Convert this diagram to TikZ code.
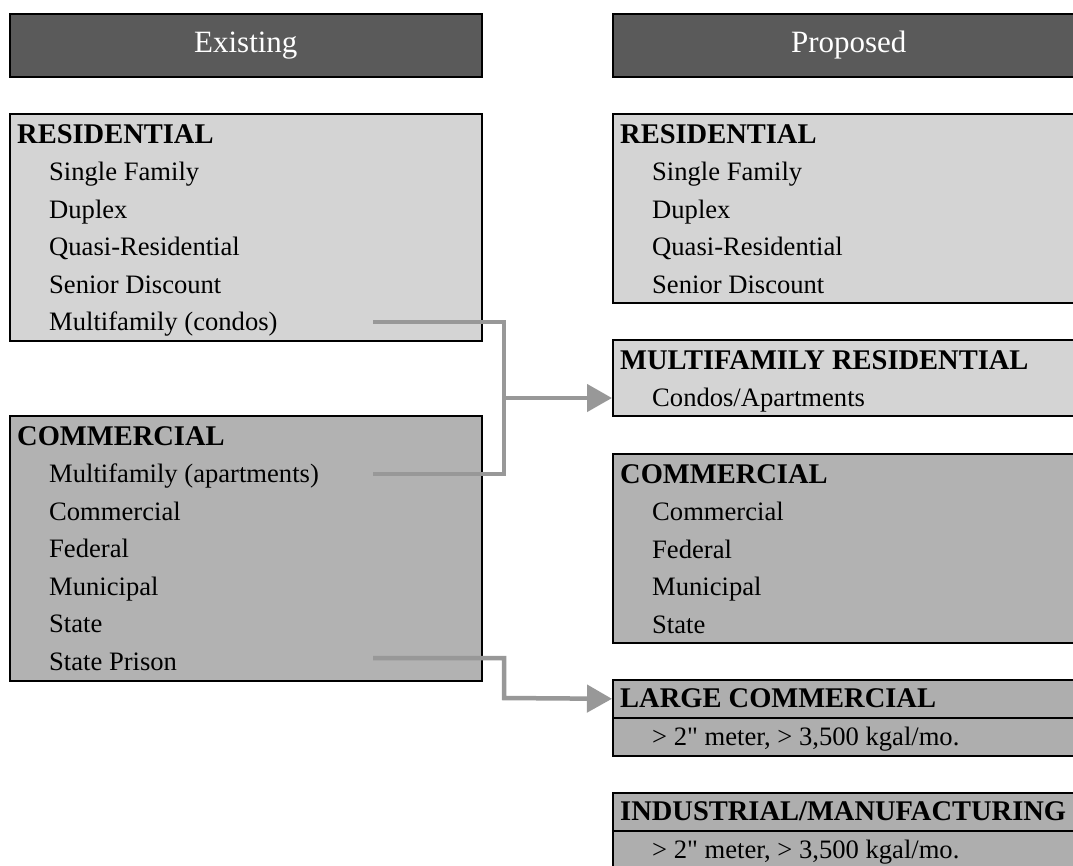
\documentclass[tikz,border=0pt]{standalone}
\usepackage{fontspec}
\setmainfont{Liberation Serif}
\usetikzlibrary{arrows.meta}
\definecolor{hdrgray}{HTML}{5A5A5A}
\definecolor{resgray}{HTML}{D4D4D4}
\definecolor{comgray}{HTML}{B2B2B2}
\definecolor{lcgray}{HTML}{AEAEAE}
\definecolor{conngray}{HTML}{989898}
\tikzset{
  hdr/.style={draw=black, line width=1.6pt, fill=hdrgray, minimum width=472pt, minimum height=63pt,
    anchor=north west, inner sep=0pt, text=white, font=\fontsize{31}{34}\selectfont},
  boxbase/.style={draw=black, line width=1.6pt, anchor=north west, inner sep=0pt, minimum width=472pt},
  resbox/.style={boxbase, fill=resgray},
  combox/.style={boxbase, fill=comgray},
  lcbox/.style={boxbase, fill=lcgray},
  ttl/.style={anchor=base west, inner sep=0pt, font=\fontsize{28.5}{30}\selectfont\bfseries},
  itm/.style={anchor=base west, inner sep=0pt, font=\fontsize{26.6}{30}\selectfont},
  conn/.style={draw=conngray, line width=4.5pt, line join=miter},
  arr/.style={conn, -{Triangle[length=25pt,width=27pt,fill=conngray]}}
}
\begin{document}
\begin{tikzpicture}[x=1pt,y=-1pt]
\clip (0,0) rectangle (1073,865);
\fill[white] (0,0) rectangle (1073,865);

% headers
\node[hdr] (hE) at (9,13) {Existing};
\node[hdr] (hP) at (612,13) {Proposed};

% existing residential
\node[resbox, minimum height=227pt] (eres) at (9,113) {};
\node[ttl] (eres0) at (17,143) {RESIDENTIAL};
\node[itm] (eres1) at (49,180.5) {Single Family};
\node[itm] (eres2) at (49,218) {Duplex};
\node[itm] (eres3) at (49,255.5) {Quasi-Residential};
\node[itm] (eres4) at (49,293) {Senior Discount};
\node[itm] (eres5) at (49,330.5) {Multifamily (condos)};

% existing commercial
\node[combox, minimum height=265pt] (ecom) at (9,415) {};
\node[ttl] (ecom0) at (17,445) {COMMERCIAL};
\node[itm] (ecom1) at (49,482.5) {Multifamily (apartments)};
\node[itm] (ecom2) at (49,520) {Commercial};
\node[itm] (ecom3) at (49,557.5) {Federal};
\node[itm] (ecom4) at (49,595) {Municipal};
\node[itm] (ecom5) at (49,632.5) {State};
\node[itm] (ecom6) at (49,670) {State Prison};

% proposed residential
\node[resbox, minimum height=189pt] (pres) at (612,113) {};
\node[ttl] (pres0) at (620,143) {RESIDENTIAL};
\node[itm] (pres1) at (652,180.5) {Single Family};
\node[itm] (pres2) at (652,218) {Duplex};
\node[itm] (pres3) at (652,255.5) {Quasi-Residential};
\node[itm] (pres4) at (652,293) {Senior Discount};

% proposed multifamily
\node[resbox, minimum height=76pt] (pmf) at (612,339) {};
\node[ttl] (pmf0) at (620,369) {MULTIFAMILY RESIDENTIAL};
\node[itm] (pmf1) at (652,406.5) {Condos/Apartments};

% proposed commercial
\node[combox, minimum height=189pt] (pcom) at (612,453) {};
\node[ttl] (pcom0) at (620,483) {COMMERCIAL};
\node[itm] (pcom1) at (652,520.5) {Commercial};
\node[itm] (pcom2) at (652,558) {Federal};
\node[itm] (pcom3) at (652,595.5) {Municipal};
\node[itm] (pcom4) at (652,633) {State};

% large commercial
\node[lcbox, minimum height=38pt] (plcA) at (612,679) {};
\node[lcbox, minimum height=38pt] (plcB) at (612,717) {};
\node[ttl] (plc0) at (620,707) {LARGE COMMERCIAL};
\node[itm] (plc1) at (652,745) {> 2\textquotedbl{} meter, > 3,500 kgal/mo.};

% industrial
\node[lcbox, minimum height=38pt] (pindA) at (612,792) {};
\node[lcbox, minimum height=38pt] (pindB) at (612,830) {};
\node[ttl] (pind0) at (620,820) {INDUSTRIAL/MANUFACTURING};
\node[itm] (pind1) at (652,858) {> 2\textquotedbl{} meter, > 3,500 kgal/mo.};

% connectors
\coordinate (cA) at (373,322);
\coordinate (cB) at (373,474);
\coordinate (jn) at (504,398);
\coordinate (cC) at (373,658);
\draw[conn] (cA) -| (jn) |- (cB);
\draw[arr] (jn) -- (pmf.west |- jn);
\draw[arr] (cC) -| (504,698) -- (plcA.west);
\end{tikzpicture}
\end{document}
